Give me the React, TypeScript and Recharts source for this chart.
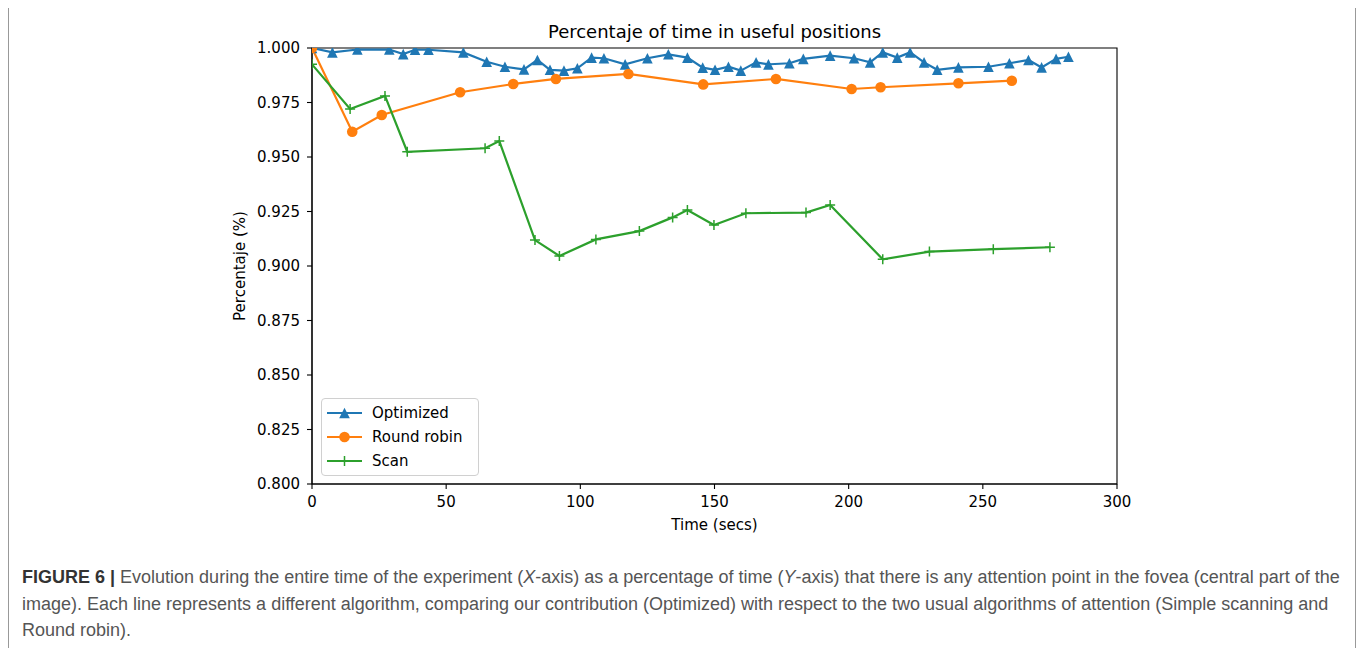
import { LineChart, Line, XAxis, YAxis, ReferenceArea } from 'recharts';

// Optimized (blue triangles)
const optTime = [0, 7.6, 16.9, 28.8, 34.0, 38.4, 43.4, 56.4, 65.1, 71.9, 79.0, 84.0, 88.7, 93.9, 98.9, 104.2, 108.8, 116.7, 125.0, 132.8, 139.9, 145.6, 150.2, 155.2, 159.8, 165.5, 170.1, 177.9, 183.1, 193.1, 202.0, 208.0, 212.7, 218.1, 222.9, 228.1, 233.0, 240.9, 252.1, 259.9, 267.0, 271.9, 277.3, 281.9];
const optValue = [1.0, 0.998, 0.9993, 0.9993, 0.9972, 0.9992, 0.9992, 0.998, 0.9937, 0.9914, 0.9902, 0.9945, 0.99, 0.9896, 0.9907, 0.9956, 0.9953, 0.9925, 0.9953, 0.9971, 0.9956, 0.991, 0.99, 0.9914, 0.9896, 0.9934, 0.9925, 0.993, 0.995, 0.9965, 0.9953, 0.9934, 0.998, 0.9956, 0.998, 0.9934, 0.99, 0.9911, 0.9914, 0.993, 0.9945, 0.9911, 0.995, 0.996];

// Round robin (orange circles)
const rrTime = [0, 15.0, 26.0, 55.2, 75.0, 90.9, 117.9, 145.8, 172.9, 201.1, 211.9, 240.9, 260.8];
const rrValue = [1.0, 0.9616, 0.9693, 0.9797, 0.9835, 0.9858, 0.9881, 0.9833, 0.9858, 0.9812, 0.982, 0.9838, 0.985];

// Scan (green plus)
const scanTime = [0, 14.2, 27.2, 35.5, 64.5, 69.8, 83.1, 92.2, 105.8, 122.0, 134.4, 139.9, 149.8, 161.7, 184.1, 193.1, 212.7, 230.1, 253.9, 275.0];
const scanValue = [0.9925, 0.972, 0.978, 0.9524, 0.954, 0.9573, 0.9119, 0.9046, 0.9122, 0.916, 0.9223, 0.9257, 0.9188, 0.9242, 0.9245, 0.928, 0.9031, 0.9066, 0.9077, 0.9086];

const xTicks = [0, 50, 100, 150, 200, 250, 300];
const yTicks = [0.8, 0.825, 0.85, 0.875, 0.9, 0.925, 0.95, 0.975, 1.0];

const BLUE = '#1f77b4';
const ORANGE = '#ff7f0e';
const GREEN = '#2ca02c';
const FONT = '"DejaVu Sans", sans-serif';

const toRows = (t: number[], v: number[]) => t.map((x, i) => ({ t: x, v: v[i] }));

const optData = toRows(optTime, optValue);
const rrData = toRows(rrTime, rrValue);
const scanData = toRows(scanTime, scanValue);

const triangleDot = (p: any) => {
  const { cx, cy, index } = p;
  if (cx == null || cy == null) return <g key={`tri-${index}`} />;
  const h = 5.3;
  return (
    <path key={`tri-${index}`} d={`M${cx},${cy - h}L${cx + h},${cy + h}L${cx - h},${cy + h}Z`} fill={BLUE} />
  );
};

const circleDot = (p: any) => {
  const { cx, cy, index } = p;
  if (cx == null || cy == null) return <g key={`cir-${index}`} />;
  return <circle key={`cir-${index}`} cx={cx} cy={cy} r={5.3} fill={ORANGE} />;
};

const plusDot = (p: any) => {
  const { cx, cy, index } = p;
  if (cx == null || cy == null) return <g key={`plus-${index}`} />;
  const h = 5;
  return (
    <path key={`plus-${index}`} d={`M${cx - h},${cy}H${cx + h}M${cx},${cy - h}V${cy + h}`} stroke={GREEN} strokeWidth={1.5} fill="none" />
  );
};

const legendItems = [
  { name: 'Optimized', color: BLUE, kind: 'tri' },
  { name: 'Round robin', color: ORANGE, kind: 'cir' },
  { name: 'Scan', color: GREEN, kind: 'plus' },
];

function LegendBox() {
  return (
    <div
      style={{
        position: 'absolute',
        left: 312,
        top: 390,
        width: 156,
        height: 76,
        border: '1px solid #d0d0d0',
        borderRadius: 4,
        background: 'rgba(255,255,255,0.85)',
        fontFamily: FONT,
        fontSize: 15,
        color: '#000',
      }}
    >
      {legendItems.map((it, i) => {
        const cy = 14 + i * 24;
        return (
          <div key={it.name}>
            <svg style={{ position: 'absolute', left: 4, top: cy - 8 }} width={38} height={16}>
              <line x1={1} y1={8} x2={36} y2={8} stroke={it.color} strokeWidth={2.2} />
              {it.kind === 'tri' && <path d="M18.5,2.7L23.8,13.3L13.2,13.3Z" fill={it.color} />}
              {it.kind === 'cir' && <circle cx={18.5} cy={8} r={5.3} fill={it.color} />}
              {it.kind === 'plus' && <path d="M13.5,8H23.5M18.5,3V13" stroke={it.color} strokeWidth={1.5} />}
            </svg>
            <div style={{ position: 'absolute', left: 50, top: cy - 9, lineHeight: '18px', whiteSpace: 'nowrap' }}>
              {it.name}
            </div>
          </div>
        );
      })}
    </div>
  );
}

const yLabel = (props: any) => {
  const vb = props.viewBox || { x: 0, y: 0, width: 0, height: 0 };
  const x = 235.5;
  const y = vb.y + vb.height / 2;
  return (
    <text x={x} y={y} transform={`rotate(-90 ${x} ${y})`} textAnchor="middle" fontFamily={FONT} fontSize={15} fill="#000">
      Percentaje (%)
    </text>
  );
};

export default function App() {
  return (
    <div
      style={{
        position: 'fixed',
        left: 8,
        top: 8,
        width: 1346,
        height: 640,
        borderLeft: '1px solid #999',
        borderRight: '1px solid #999',
        background: '#fff',
      }}
    >
      <div
        style={{
          position: 'absolute',
          left: 303,
          top: 15,
          width: 805,
          textAlign: 'center',
          fontFamily: FONT,
          fontSize: 18,
          lineHeight: 1,
          color: '#000',
          whiteSpace: 'nowrap',
        }}
      >
        Percentaje of time in useful positions
      </div>

      <div style={{ position: 'absolute', left: 0, top: 0 }}>
        <LineChart width={1200} height={560} margin={{ top: 40, right: 92, left: 243, bottom: 24 }}>
          <XAxis
            dataKey="t"
            type="number"
            domain={[0, 300]}
            ticks={xTicks}
            allowDataOverflow
            height={60}
            tickSize={5}
            tickMargin={7}
            tick={{ fill: '#000', fontSize: 15, fontFamily: FONT }}
            axisLine={{ stroke: '#000', strokeWidth: 1.1 }}
            tickLine={{ stroke: '#000', strokeWidth: 1.1 }}
            label={{ value: 'Time (secs)', position: 'insideBottom', offset: 14, fill: '#000', fontSize: 15, fontFamily: FONT }}
          />
          <YAxis
            type="number"
            domain={[0.8, 1.0]}
            ticks={yTicks}
            allowDataOverflow
            width={60}
            tickSize={5}
            tickMargin={7}
            tick={{ fill: '#000', fontSize: 15, fontFamily: FONT }}
            tickFormatter={(v: number) => v.toFixed(3)}
            axisLine={{ stroke: '#000', strokeWidth: 1.1 }}
            tickLine={{ stroke: '#000', strokeWidth: 1.1 }}
            label={{ content: yLabel }}
          />
          <Line
            data={optData}
            dataKey="v"
            name="Optimized"
            type="linear"
            stroke={BLUE}
            strokeWidth={2.2}
            dot={triangleDot}
            activeDot={false}
            isAnimationActive={false}
          />
          <Line
            data={rrData}
            dataKey="v"
            name="Round robin"
            type="linear"
            stroke={ORANGE}
            strokeWidth={2.2}
            dot={circleDot}
            activeDot={false}
            isAnimationActive={false}
          />
          <Line
            data={scanData}
            dataKey="v"
            name="Scan"
            type="linear"
            stroke={GREEN}
            strokeWidth={2.2}
            dot={plusDot}
            activeDot={false}
            isAnimationActive={false}
          />
          {/* plot frame (top and right spines) */}
          <ReferenceArea x1={0} x2={300} y1={0.8} y2={1.0} fill="none" fillOpacity={0} stroke="#000" strokeWidth={1.1} ifOverflow="visible" />
        </LineChart>
      </div>

      <LegendBox />

      <div
        style={{
          position: 'absolute',
          left: 13,
          top: 556,
          fontFamily: '"Liberation Sans", Arial, sans-serif',
          fontSize: 18,
          lineHeight: '26.5px',
          color: '#555',
          whiteSpace: 'nowrap',
        }}
      >
        <div>
          <b style={{ color: '#333' }}>FIGURE 6 |</b> Evolution during the entire time of the experiment (<i>X</i>-axis) as a percentage of time (<i>Y</i>-axis) that there is any attention point in the fovea (central part of the
        </div>
        <div>
          image). Each line represents a different algorithm, comparing our contribution (Optimized) with respect to the two usual algorithms of attention (Simple scanning and
        </div>
        <div>Round robin).</div>
      </div>
    </div>
  );
}
